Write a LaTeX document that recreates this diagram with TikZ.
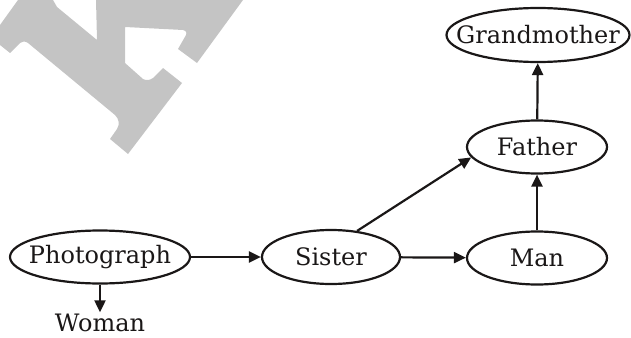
\documentclass[tikz,border=0pt]{standalone}
\usepackage{fontspec}
\setmainfont{DejaVu Serif}
\usetikzlibrary{shapes.geometric,arrows.meta}
\definecolor{wm}{HTML}{C4C4C4}
\definecolor{ink}{HTML}{1A1717}
\newcommand{\zw}[1]{\makebox[0pt]{#1}}
\tikzset{
  oval/.style={ellipse, draw=ink, line width=2.2pt, inner sep=0pt, text=ink, font=\fontsize{24}{28}\selectfont},
  plain/.style={inner sep=1pt, text=ink, font=\fontsize{24}{28}\selectfont},
  arr/.style={draw=ink, line width=2.2pt, -{Triangle[length=12pt,width=11pt]}}
}
\begin{document}
\begin{tikzpicture}[x=1pt,y=-1pt]
\useasboundingbox (0,0) rectangle (631,337);
% watermark
\fill[wm] (0,25) -- (18,0) -- (53,0) -- (57,7) -- (97,40) -- (96,0) -- (243,0) -- (197,63) -- (178,49)
  -- (186,35) .. controls (187,32) and (186,31) .. (183,30) -- (125,27) -- (125,63) -- (143,79)
  .. controls (147,81) and (150,80) .. (153,78) -- (163,68) -- (182,83) -- (128,154) -- (110,139)
  -- (117,129) .. controls (120,124) and (119,119) .. (115,115) -- (28,43) .. controls (25,41) and (22,41) .. (20,43)
  -- (10,53) -- (0,45) -- cycle;
% nodes
\node[oval, minimum width=180pt, minimum height=53pt] (photo) at (100,257) {\zw{Photograph}};
\node[oval, minimum width=138pt, minimum height=54pt] (sister) at (331,257) {\zw{Sister}};
\node[oval, minimum width=140pt, minimum height=53pt] (man) at (537,258) {\zw{Man}};
\node[oval, minimum width=140pt, minimum height=53pt] (father) at (537,147) {\zw{Father}};
\node[oval, minimum width=183pt, minimum height=54pt] (gm) at (538,35) {\zw{Grandmother}};
\node[plain, anchor=base] (woman) at (100,331) {Woman};
% connectors
\draw[arr] (photo) -- (sister);
\draw[arr] (sister) -- (man);
\draw[arr] (man) -- (father);
\draw[arr] (father) -- (gm);
\draw[arr] (sister.45) -- (father.189);
\draw[arr] (photo.south) -- (woman.north);
\end{tikzpicture}
\end{document}
